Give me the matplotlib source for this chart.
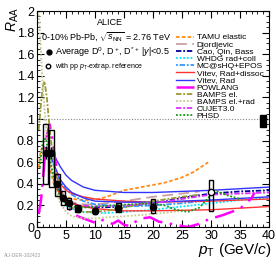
import numpy as np
import matplotlib.pyplot as plt
from matplotlib.patches import Rectangle
from matplotlib.ticker import MultipleLocator

plt.rcParams['font.family'] = ['Liberation Sans', 'DejaVu Sans']
plt.rcParams['mathtext.fontset'] = 'custom'
plt.rcParams['mathtext.rm'] = 'Liberation Sans'
plt.rcParams['mathtext.it'] = 'Liberation Sans:italic'

############################################
# data: average D0, D+, D*+ RAA
############################################
d_pt = [1.5, 2.5, 3.5, 4.5, 5.5, 7, 10, 14, 20]
d_raa = [0.69, 0.69, 0.40, 0.27, 0.22, 0.17, 0.15, 0.18, 0.19]
d_stat = [0.06, 0.05, 0.03, 0.02, 0.02, 0.015, 0.015, 0.02, 0.03]
d_syst_lo = [0.40, 0.37, 0.29, 0.20, 0.17, 0.14, 0.12, 0.14, 0.13]
d_syst_hi = [0.95, 0.90, 0.49, 0.33, 0.27, 0.20, 0.18, 0.22, 0.26]

# pp pT-extrapolated reference point
e_pt = [30]
e_raa = [0.32]
e_syst_lo = [0.15]
e_syst_hi = [0.44]

# normalisation uncertainty
norm_lo, norm_hi = 0.93, 1.04

############################################
# models
############################################
tamu_pt = [0.3, 0.6, 1, 1.5, 2, 2.5, 3, 4, 5, 6, 8, 10, 12, 15, 18, 20, 22, 25, 27, 29.5]
tamu_r = [0.55, 0.70, 0.74, 0.72, 0.62, 0.48, 0.38, 0.31, 0.28, 0.26, 0.25, 0.25, 0.28,
          0.34, 0.37, 0.39, 0.41, 0.46, 0.51, 0.60]

djor_pt = [5, 6, 8, 10, 12, 15, 20, 25, 28]
djor_r = [0.25, 0.23, 0.21, 0.21, 0.22, 0.24, 0.28, 0.31, 0.33]

cao_pt = [3, 4, 5, 6, 8, 10, 15, 20, 25, 30, 35, 40]
cao_r = [0.45, 0.32, 0.26, 0.22, 0.19, 0.18, 0.19, 0.22, 0.27, 0.31, 0.33, 0.34]

whdg_pt = [5, 6, 8, 10, 12, 15, 20, 25, 30, 35, 40]
whdg_r = [0.20, 0.17, 0.14, 0.13, 0.13, 0.14, 0.16, 0.19, 0.22, 0.25, 0.27]

mc_pt = [1, 2, 3, 4, 5, 6, 8, 10, 15, 20, 25, 30]
mc_r = [0.75, 0.72, 0.55, 0.42, 0.35, 0.30, 0.24, 0.21, 0.19, 0.20, 0.22, 0.25]

vrd_pt = [3, 4, 5, 6, 8, 10, 15, 20, 30, 40]
vrd_hi = [0.50, 0.40, 0.34, 0.31, 0.28, 0.26, 0.24, 0.23, 0.24, 0.26]
vrd_lo = [0.40, 0.30, 0.25, 0.22, 0.19, 0.17, 0.15, 0.15, 0.16, 0.19]

vr_pt = [2.5, 3, 4, 5, 6, 8, 10, 15, 20, 30, 40]
vr_hi = [0.72, 0.66, 0.56, 0.48, 0.43, 0.37, 0.34, 0.32, 0.32, 0.34, 0.37]
vr_lo = [0.64, 0.57, 0.44, 0.37, 0.32, 0.27, 0.24, 0.23, 0.23, 0.25, 0.28]

pow_pt = [0.3, 0.7, 1.2, 1.7, 2.2, 2.7, 3.2, 4, 5, 6, 7, 8, 9, 10, 11, 12, 13, 14, 15,
          16, 17, 18, 19.5, 21, 22, 24, 26, 28, 29.5, 32, 35, 37, 37.5]
pow_r = [0.12, 0.25, 0.55, 0.85, 0.95, 0.80, 0.60, 0.36, 0.20, 0.14, 0.10, 0.08, 0.06,
         0.04, 0.07, 0.05, 0.03, 0.06, 0.02, 0.01, 0.05, 0.08, 0.09, 0.05, 0.04, 0.02,
         0.00, 0.03, 0.07, 0.11, 0.17, 0.27, 0.32]

bel_pt = [0.3, 0.7, 1.0, 1.3, 1.7, 2.2, 3, 4, 5, 6, 8, 10, 12, 15, 20, 25, 28]
bel_r = [0.90, 1.15, 1.30, 1.35, 1.20, 0.90, 0.55, 0.35, 0.24, 0.18, 0.14, 0.14, 0.15,
         0.18, 0.24, 0.28, 0.30]

belr_pt = [0.3, 0.6, 1, 1.5, 2, 3, 4, 5, 6, 8, 10, 12, 15, 20, 25]
belr_r = [2.0, 1.70, 1.30, 0.95, 0.70, 0.40, 0.22, 0.14, 0.10, 0.08, 0.08, 0.09, 0.10,
          0.12, 0.15]

cujet_pt = [8, 10, 15, 20, 25, 30, 35, 40]
cujet_r = [0.20, 0.19, 0.20, 0.22, 0.26, 0.30, 0.31, 0.32]

phsd_pt = [0.5, 1, 1.5, 2, 3, 4, 5, 6, 8, 10, 13, 16, 20, 22, 24, 26, 28, 30, 31, 33, 35]
phsd_r = [0.55, 0.80, 0.82, 0.70, 0.42, 0.28, 0.22, 0.19, 0.18, 0.19, 0.20, 0.21, 0.22,
          0.20, 0.16, 0.14, 0.18, 0.30, 0.33, 0.29, 0.26]

############################################
# plot
############################################
fig = plt.figure(figsize=(2.76, 2.64), dpi=100)
ax = fig.add_axes([0.134, 0.14, 0.841, 0.818])

lw = 1.3
ax.plot(tamu_pt, tamu_r, color='#ff8c1a', ls=(0, (2, 1.2)), lw=lw, label='TAMU elastic')
ax.plot(djor_pt, djor_r, color='#c9a0a0', ls=(0, (6, 3)), lw=lw, label='Djordjevic')
ax.plot(cao_pt, cao_r, color='#000099', ls=(0, (3, 1, 1, 1)), lw=lw, label='Cao, Qin, Bass')
ax.plot(whdg_pt, whdg_r, color='#00e5ff', ls=(0, (1, 1)), lw=lw, label='WHDG rad+coll')
ax.plot(mc_pt, mc_r, color='#3399ff', ls=(0, (1, 1, 3, 1)), lw=lw, label='MC@sHQ+EPOS')
ax.plot(vrd_pt, vrd_hi, color='#ff3333', lw=1.0, label='Vitev, Rad+dissoc')
ax.plot(vrd_pt, vrd_lo, color='#ff3333', lw=1.0)
ax.plot(vr_pt, vr_hi, color='#3333ff', lw=1.0, label='Vitev, Rad')
ax.plot(vr_pt, vr_lo, color='#3333ff', lw=1.0)
ax.plot(pow_pt, pow_r, color='#ff00ff', ls=(0, (8, 3, 1, 3)), lw=1.8, label='POWLANG')
ax.plot(bel_pt, bel_r, color='#999933', ls=(0, (3, 1, 1, 1)), lw=lw, label='BAMPS el.')
ax.plot(belr_pt, belr_r, color='#c8c890', ls=(0, (1, 1)), lw=lw, label='BAMPS el.+rad')
ax.plot(cujet_pt, cujet_r, color='#dd33ff', ls=(0, (3, 1, 1, 1)), lw=lw, label='CUJET3.0')
ax.plot(phsd_pt, phsd_r, color='#119911', ls=(0, (1, 1)), lw=lw, label='PHSD')

ax.axhline(1, color='#888888', ls=(0, (1, 1.5)), lw=0.8)

# systematic boxes
bw = 0.8
for x, lo, hi in zip(d_pt + e_pt, d_syst_lo + e_syst_lo, d_syst_hi + e_syst_hi):
    ax.add_patch(Rectangle((x - bw / 2, lo), bw, hi - lo, fill=False,
                           edgecolor='black', lw=1.0, zorder=5))
ax.add_patch(Rectangle((38.4, norm_lo), 1.0, norm_hi - norm_lo, color='black', zorder=5))

ax.errorbar(d_pt, d_raa, yerr=d_stat, fmt='o', color='black', ms=4.5,
            elinewidth=1.0, capsize=0, zorder=6)
ax.errorbar(e_pt, e_raa, fmt='o', mfc='white', mec='black', ms=4.5, zorder=6)

ax.set_xlim(0, 40)
ax.set_ylim(0, 2)
ax.xaxis.set_major_locator(MultipleLocator(5))
ax.xaxis.set_minor_locator(MultipleLocator(1))
ax.yaxis.set_major_locator(MultipleLocator(0.2))
ax.yaxis.set_minor_locator(MultipleLocator(0.05))
ax.tick_params(which='both', direction='in', top=True, right=True, labelsize=9, pad=2)
ax.tick_params(which='major', length=5)
ax.tick_params(which='minor', length=2.5)
ax.set_yticks(np.arange(0, 2.01, 0.2))
ax.set_yticklabels(['0', '0.2', '0.4', '0.6', '0.8', '1', '1.2', '1.4', '1.6', '1.8', '2'])

fig.text(0.015, 0.975, r'$R_{\rm AA}$', fontsize=10, rotation=90, ha='left', va='top')
fig.text(0.985, 0.02, r'$p_{\rm T}$ (GeV/$c$)', fontsize=11, ha='right', va='bottom')

ax.text(0.315, 0.949, 'ALICE', transform=ax.transAxes, fontsize=6.5, ha='center', va='center')
ax.text(0.017, 0.878, r'0-10% Pb-Pb, $\sqrt{s_{\rm NN}}$ = 2.76 TeV', transform=ax.transAxes,
        fontsize=6.5, ha='left', va='center')
ax.plot([0.052], [0.81], 'o', color='black', ms=3.5, transform=ax.transAxes)
ax.text(0.077, 0.81, r'Average D$^0$, D$^+$, D$^{*+}$ |$y$|<0.5', transform=ax.transAxes,
        fontsize=6.5, ha='left', va='center')
ax.plot([0.048], [0.745], 'o', mfc='white', mec='black', ms=3.2, transform=ax.transAxes)
ax.text(0.077, 0.745, r'with pp $p_{\rm T}$-extrap. reference', transform=ax.transAxes,
        fontsize=5, ha='left', va='center')

ax.legend(loc='upper left', bbox_to_anchor=(0.58, 0.915), fontsize=6, frameon=False,
          handlelength=2.2, handletextpad=0.3, labelspacing=-0.08, borderpad=0)

fig.text(0.015, 0.025, 'ALI-DER-102423', fontsize=3.5, color='#999999')

plt.savefig('out.png', dpi=100)
